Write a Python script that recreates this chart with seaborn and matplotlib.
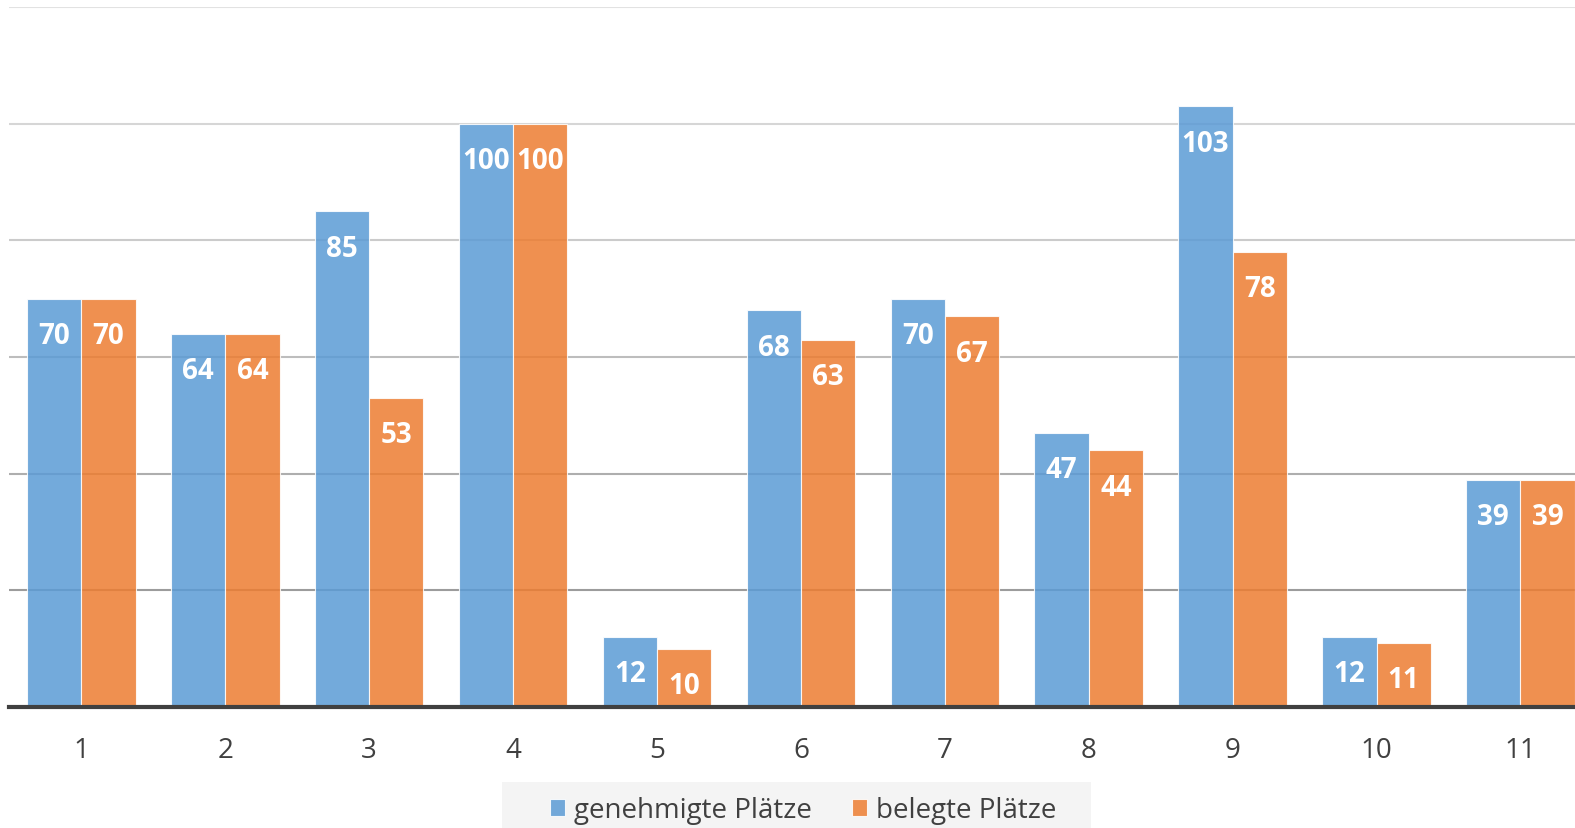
import pandas as pd
import seaborn as sns
import matplotlib.pyplot as plt
from matplotlib.patches import Rectangle

# Werte aus dem Diagramm
kategorien = ["1", "2", "3", "4", "5", "6", "7", "8", "9", "10", "11"]
genehmigt = [70, 64, 85, 100, 12, 68, 70, 47, 103, 12, 39]
belegt = [70, 64, 53, 100, 10, 63, 67, 44, 78, 11, 39]
serien = ["genehmigte Plätze", "belegte Plätze"]
y_ticks = [0, 20, 40, 60, 80, 100, 120]

df = pd.DataFrame({
    "Kategorie": kategorien * 2,
    "Wert": genehmigt + belegt,
    "Serie": [serien[0]] * len(kategorien) + [serien[1]] * len(kategorien),
})

sns.set_style("white")
plt.rcParams["font.family"] = ["Open Sans", "DejaVu Sans"]

fig = plt.figure(figsize=(15.75, 8.29), dpi=100)
ax = fig.add_axes([9.4 / 1575, 121 / 829, 1583 / 1575, 700 / 829])

palette = {serien[0]: "#5B9BD5", serien[1]: "#ED7D31"}
sns.barplot(data=df, x="Kategorie", y="Wert", hue="Serie", palette=palette,
            saturation=1, width=0.754, gap=0, alpha=0.85, edgecolor="white",
            linewidth=0.8, ax=ax, zorder=3)

ax.set_ylim(0, 120)
ax.set_xlim(-0.5, len(kategorien) - 0.5)
ax.set_yticks(y_ticks)
ax.set_yticklabels([])
ax.tick_params(axis="y", length=0)
ax.tick_params(axis="x", length=0, pad=21, labelsize=20, labelcolor="#404040")
ax.set_xlabel("")
ax.set_ylabel("")

# Gitterlinien werden nach oben heller
ax.yaxis.grid(True, linewidth=1.5, zorder=0)
ax.set_axisbelow(True)
grid_colors = ["#404040", "#9c9c9c", "#aeaeae", "#bdbdbd", "#cbcbcb", "#d6d6d6", "#e2e2e2"]
for gl, c in zip(ax.get_ygridlines(), grid_colors):
    gl.set_color(c)

for s in ["left", "right", "top"]:
    ax.spines[s].set_visible(False)
ax.spines["bottom"].set_color("#404040")
ax.spines["bottom"].set_linewidth(3)
ax.spines["bottom"].set_zorder(5)

for cont in ax.containers:
    labels = [f"{b.get_height():.0f}" for b in cont]
    ax.bar_label(cont, labels=labels, label_type="edge", padding=-37,
                 color="white", fontsize=20, fontweight="bold", zorder=6)

# Legende mit hellgrauem Hintergrund
fig.patches.append(Rectangle((502 / 1575, 0), 589 / 1575, 46 / 829,
                             transform=fig.transFigure, facecolor="#f4f4f4",
                             edgecolor="none", zorder=0))
ax.get_legend().remove()
handles, lbls = ax.get_legend_handles_labels()
leg = fig.legend(handles, lbls, loc="center", bbox_to_anchor=(803 / 1575, 18 / 829),
                 ncol=2, frameon=False, fontsize=20, handlelength=0.55, handleheight=0.55,
                 handletextpad=0.32, columnspacing=1.45, borderpad=0, borderaxespad=0,
                 labelcolor="#404040")

fig.savefig("out.png", dpi=100)
